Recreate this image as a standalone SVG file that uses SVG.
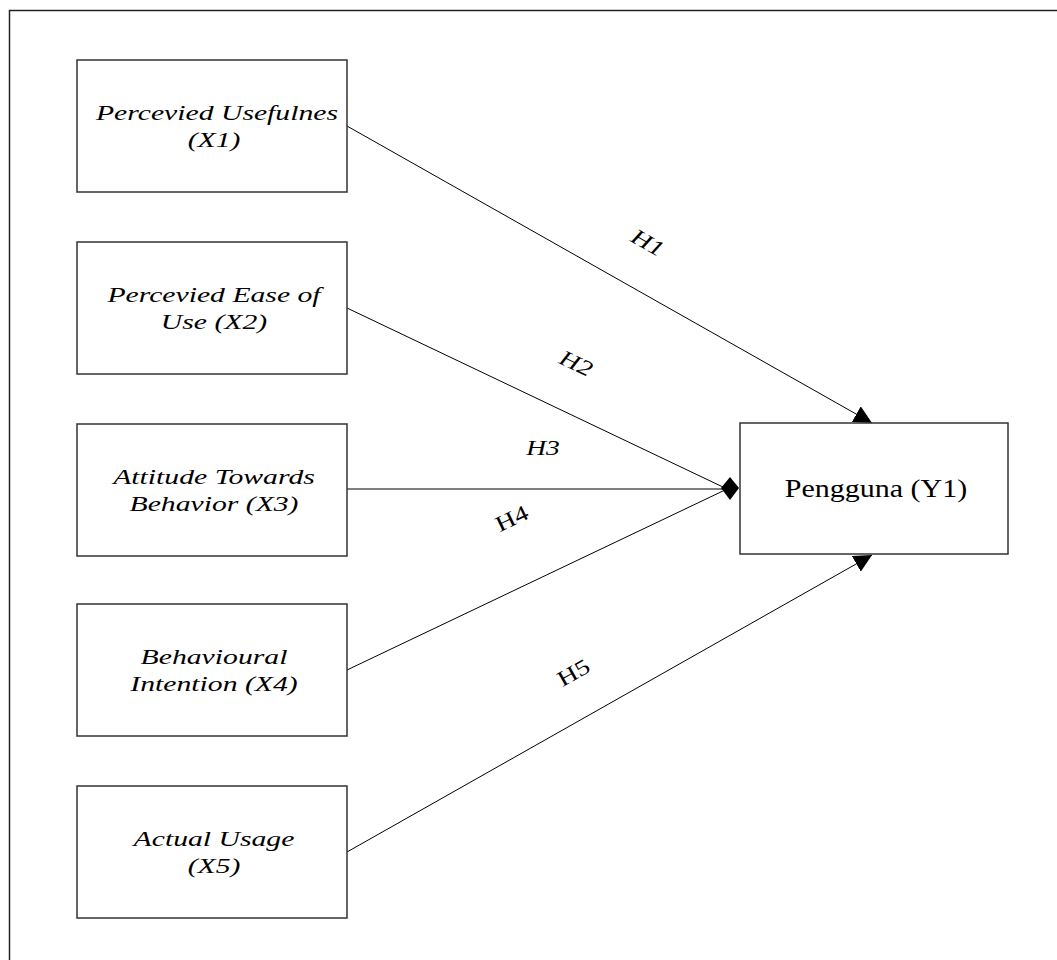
<svg xmlns="http://www.w3.org/2000/svg" width="1057" height="960" viewBox="0 0 1057 960">
  <style>
    .box { fill: #ffffff; stroke: #333333; stroke-width: 1.5; }
    .lbl { font-family: "Liberation Serif", "Times New Roman", serif; font-size: 22px; fill: #000000; text-anchor: middle; }
    .it { font-style: italic; }
    .edge { stroke: #000000; stroke-width: 1; fill: none; }
  </style>
  <defs>
    <marker id="arrow" viewBox="0 0 10 10" refX="10" refY="5" markerWidth="18" markerHeight="18" markerUnits="userSpaceOnUse" orient="auto">
      <path d="M0,0 L10,5 L0,10 z" fill="#000000"/>
    </marker>
  </defs>

  <rect width="1057" height="960" fill="#ffffff"/>
  <!-- outer frame (top and left edges) -->
  <path d="M9.5,960 V10.5 H1057" stroke="#222222" stroke-width="1.5" fill="none"/>

  <g id="connectors">
    <line class="edge" x1="347" y1="126" x2="872" y2="423" marker-end="url(#arrow)"/>
    <line class="edge" x1="347" y1="308" x2="725" y2="488"/>
    <line class="edge" x1="347" y1="489" x2="725" y2="489" stroke="#555555" stroke-width="1.5"/>
    <line class="edge" x1="347" y1="670" x2="725" y2="490"/>
    <line class="edge" x1="347" y1="852" x2="872" y2="555" marker-end="url(#arrow)"/>
    <polygon points="721,488 730,477 739,488 730,500" fill="#000000"/>
    <text class="lbl it" transform="translate(644,249) rotate(29.6) scale(1.25,1)">H1</text>
    <text class="lbl it" transform="translate(573,370) rotate(25.5) scale(1.25,1)">H2</text>
    <text class="lbl it" transform="translate(543,455) scale(1.25,1)">H3</text>
    <text class="lbl" transform="translate(515,525) rotate(-25.5) scale(1.25,1)">H4</text>
    <text class="lbl" transform="translate(577,679) rotate(-29.5) scale(1.25,1)">H5</text>
  </g>

  <g id="x1">
    <rect class="box" x="77" y="60" width="270" height="132"/>
    <text class="lbl it" transform="translate(217,120) scale(1.35,1)">Percevied Usefulnes</text>
    <text class="lbl it" transform="translate(214,147) scale(1.35,1)">(X1)</text>
  </g>
  <g id="x2">
    <rect class="box" x="77" y="242" width="270" height="132"/>
    <text class="lbl it" transform="translate(214,302) scale(1.35,1)">Percevied Ease of</text>
    <text class="lbl it" transform="translate(214,329) scale(1.35,1)">Use (X2)</text>
  </g>
  <g id="x3">
    <rect class="box" x="77" y="424" width="270" height="132"/>
    <text class="lbl it" transform="translate(214,484) scale(1.35,1)">Attitude Towards</text>
    <text class="lbl it" transform="translate(214,511) scale(1.35,1)">Behavior (X3)</text>
  </g>
  <g id="x4">
    <rect class="box" x="77" y="604" width="270" height="132"/>
    <text class="lbl it" transform="translate(214,664) scale(1.35,1)">Behavioural</text>
    <text class="lbl it" transform="translate(214,691) scale(1.35,1)">Intention (X4)</text>
  </g>
  <g id="x5">
    <rect class="box" x="77" y="786" width="270" height="132"/>
    <text class="lbl it" transform="translate(214,846) scale(1.35,1)">Actual Usage</text>
    <text class="lbl it" transform="translate(214,873) scale(1.35,1)">(X5)</text>
  </g>
  <g id="y1">
    <rect class="box" x="740" y="423" width="268" height="131"/>
    <text class="lbl" style="font-size:25px" transform="translate(876,497) scale(1.2,1)">Pengguna (Y1)</text>
  </g>
</svg>
